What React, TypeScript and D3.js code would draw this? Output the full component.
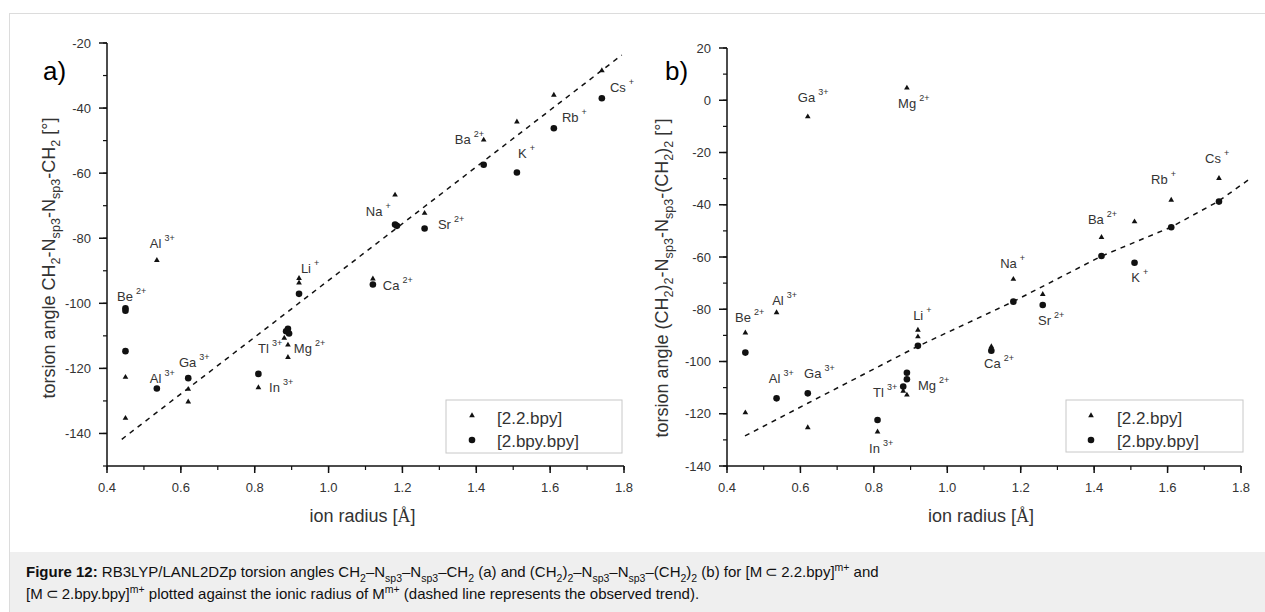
import React from 'react';
import * as d3 from 'd3';

// ---------- data ----------
const xTicks = [0.4, 0.6, 0.8, 1.0, 1.2, 1.4, 1.6, 1.8];
const yTicksA = [-140, -120, -100, -80, -60, -40, -20];
const yTicksB = [-140, -120, -100, -80, -60, -40, -20, 0, 20];
const legendNames = ['[2.2.bpy]', '[2.bpy.bpy]'];

// panel a: [ion radius, torsion angle]
const triA: [number, number][] = [
  [0.45, -122.7], [0.45, -135.3], [0.535, -86.8], [0.62, -126.4], [0.62, -130.3],
  [0.81, -125.9], [0.88, -110.7], [0.89, -112.8], [0.89, -116.6], [0.92, -92.3],
  [0.92, -93.7], [1.12, -92.5], [1.18, -66.7], [1.26, -72.3], [1.42, -49.8],
  [1.51, -44.2], [1.61, -36.0], [1.74, -28.5],
];
const cirA: [number, number][] = [
  [0.45, -101.5], [0.45, -102.3], [0.45, -114.7], [0.535, -126.2], [0.62, -123.0],
  [0.81, -121.7], [0.885, -108.6], [0.89, -107.8], [0.893, -109.3], [0.92, -97.1],
  [1.12, -94.2], [1.18, -75.8], [1.185, -76.2], [1.26, -77.0], [1.42, -57.4],
  [1.51, -59.8], [1.61, -46.2], [1.74, -37.0],
];
const trendA: [number, number][] = [[0.44, -141.8], [1.794, -23.7]];

// panel b
const triB: [number, number][] = [
  [0.45, -89.0], [0.45, -119.6], [0.535, -81.3], [0.62, -6.3], [0.62, -125.3],
  [0.81, -126.9], [0.88, -111.3], [0.89, 4.7], [0.89, -112.8], [0.92, -88.0],
  [0.92, -90.5], [1.12, -94.3], [1.18, -68.5], [1.26, -74.3], [1.42, -52.5],
  [1.51, -46.5], [1.61, -38.2], [1.74, -29.9],
];
const cirB: [number, number][] = [
  [0.45, -96.6], [0.535, -114.1], [0.62, -112.2], [0.81, -122.4], [0.88, -109.6],
  [0.89, -104.3], [0.89, -106.8], [0.92, -94.0], [1.12, -95.9], [1.18, -77.1],
  [1.26, -78.4], [1.42, -59.6], [1.51, -62.2], [1.61, -48.6], [1.74, -38.8],
];
const trendB: [number, number][] = [
  [0.449, -128.5], [0.621, -115.9], [0.918, -94.3], [1.179, -77.1],
  [1.421, -59.6], [1.609, -48.6], [1.737, -38.8], [1.829, -29.6],
];

// ion labels: [ion, charge, radius, angle] (label anchor in data units)
const labelsA: [string, string, number, number][] = [
  ['Al', '3+', 0.516, -83.0], ['Be', '2+', 0.427, -99.2], ['Al', '3+', 0.516, -124.5],
  ['Ga', '3+', 0.595, -119.5], ['Tl', '3+', 0.809, -115.3], ['Mg', '2+', 0.906, -115.3],
  ['In', '3+', 0.839, -127.2], ['Li', '+', 0.925, -90.7], ['Ca', '2+', 1.147, -95.9],
  ['Na', '+', 1.101, -73.2], ['Sr', '2+', 1.296, -77.1], ['Ba', '2+', 1.342, -51.1],
  ['K', '+', 1.513, -55.4], ['Rb', '+', 1.632, -44.4], ['Cs', '+', 1.762, -35.0],
];
const labelsB: [string, string, number, number][] = [
  ['Ga', '3+', 0.593, -0.6], ['Mg', '2+', 0.866, -3.0], ['Be', '2+', 0.422, -84.8],
  ['Al', '3+', 0.523, -78.4], ['Li', '+', 0.907, -84.1], ['Al', '3+', 0.514, -108.3],
  ['Ga', '3+', 0.61, -106.4], ['Tl', '3+', 0.798, -113.5], ['Mg', '2+', 0.92, -110.9],
  ['In', '3+', 0.787, -135.1], ['Ca', '2+', 1.1, -102.4], ['Sr', '2+', 1.247, -86.0],
  ['Na', '+', 1.144, -64.3], ['Ba', '2+', 1.383, -47.4], ['K', '+', 1.501, -69.7],
  ['Rb', '+', 1.555, -32.2], ['Cs', '+', 1.702, -23.9],
];

type Seg = { t: string; s?: 'sub' | 'sup'; b?: boolean };
const yTitleA: Seg[] = [
  { t: 'torsion angle CH' }, { t: '2', s: 'sub' }, { t: '-N' }, { t: 'sp3', s: 'sub' },
  { t: '-N' }, { t: 'sp3', s: 'sub' }, { t: '-CH' }, { t: '2', s: 'sub' }, { t: ' [°]' },
];
const yTitleB: Seg[] = [
  { t: 'torsion angle (CH' }, { t: '2', s: 'sub' }, { t: ')' }, { t: '2', s: 'sub' },
  { t: '-N' }, { t: 'sp3', s: 'sub' }, { t: '-N' }, { t: 'sp3', s: 'sub' },
  { t: '-(CH' }, { t: '2', s: 'sub' }, { t: ')' }, { t: '2', s: 'sub' }, { t: ' [°]' },
];
const caption1: Seg[] = [
  { t: 'Figure 12:', b: true }, { t: ' RB3LYP/LANL2DZp torsion angles CH' }, { t: '2', s: 'sub' },
  { t: '–N' }, { t: 'sp3', s: 'sub' }, { t: '–N' }, { t: 'sp3', s: 'sub' }, { t: '–CH' },
  { t: '2', s: 'sub' }, { t: ' (a) and (CH' }, { t: '2', s: 'sub' }, { t: ')' }, { t: '2', s: 'sub' },
  { t: '–N' }, { t: 'sp3', s: 'sub' }, { t: '–N' }, { t: 'sp3', s: 'sub' }, { t: '–(CH' },
  { t: '2', s: 'sub' }, { t: ')' }, { t: '2', s: 'sub' }, { t: ' (b) for [M\u2009⊂\u20092.2.bpy]' },
  { t: 'm+', s: 'sup' }, { t: ' and' },
];
const caption2: Seg[] = [
  { t: '[M\u2009⊂\u20092.bpy.bpy]' }, { t: 'm+', s: 'sup' },
  { t: ' plotted against the ionic radius of M' }, { t: 'm+', s: 'sup' },
  { t: ' (dashed line represents the observed trend).' },
];

const FONT = "'Liberation Sans', Arial, sans-serif";

function rich(segs: Seg[], size: number) {
  let off = 0;
  return segs.map((g, i) => {
    const target = g.s === 'sub' ? size * 0.3 : g.s === 'sup' ? -size * 0.38 : 0;
    const dy = target - off;
    off = target;
    return (
      <tspan key={i} dy={dy} fontSize={g.s ? size * 0.7 : size} fontWeight={g.b ? 'bold' : undefined}>
        {g.t}
      </tspan>
    );
  });
}

type PanelProps = {
  xr: [number, number];
  yr: [number, number];
  yDomain: [number, number];
  yTicks: number[];
  tri: [number, number][];
  cir: [number, number][];
  trend: [number, number][];
  labels: [string, string, number, number][];
  legend: { x: number; y: number; w: number; h: number; mx: number; tx: number };
  tag: string;
  tagX: number;
  yTitle: Seg[];
  yTitleX: number;
  yTitleY: number;
};

function Panel(p: PanelProps) {
  const x = d3.scaleLinear().domain([0.4, 1.8]).range(p.xr);
  const y = d3.scaleLinear().domain(p.yDomain).range(p.yr);
  const minorX = d3.ticks(0.4, 1.8, 14);
  const minorY = d3.ticks(p.yDomain[0], p.yDomain[1], (p.yDomain[1] - p.yDomain[0]) / 10);
  const line = d3.line<[number, number]>().x(d => x(d[0])).y(d => y(d[1]));
  const triPath = d3.symbol(d3.symbolTriangle, 14)() as string;
  const x0 = p.xr[0];
  const yb = p.yr[0];
  const ink = '#111';
  const txt = '#333';
  const L = p.legend;
  return (
    <g fontFamily={FONT}>
      {/* trend */}
      <path d={line(p.trend) as string} fill="none" stroke={ink} strokeWidth={1.5} strokeDasharray="5,5" />
      {/* markers */}
      {p.cir.map((d, i) => (
        <circle key={'c' + i} cx={x(d[0])} cy={y(d[1])} r={3.3} fill={ink} />
      ))}
      {p.tri.map((d, i) => (
        <path key={'t' + i} d={triPath} transform={`translate(${x(d[0])},${y(d[1])})`} fill={ink} />
      ))}
      {/* labels */}
      {p.labels.map((l, i) => (
        <text key={'l' + i} x={x(l[2])} y={y(l[3])} fontSize={13} fill={txt}>
          {l[0]}
          <tspan dx={3} dy={-7} fontSize={9}>{l[1]}</tspan>
        </text>
      ))}
      {/* axes */}
      <line x1={x0} x2={x0} y1={y(p.yDomain[1])} y2={yb} stroke={ink} strokeWidth={1.5} />
      <line x1={x0} x2={p.xr[1]} y1={yb} y2={yb} stroke={ink} strokeWidth={1.5} />
      {minorX.map((v, i) => (
        <line key={'mx' + i} x1={x(v)} x2={x(v)} y1={yb} y2={yb + 4} stroke={ink} strokeWidth={1.2} />
      ))}
      {xTicks.map((v, i) => (
        <g key={'x' + i}>
          <line x1={x(v)} x2={x(v)} y1={yb} y2={yb + 7} stroke={ink} strokeWidth={1.5} />
          <text x={x(v)} y={yb + 26} textAnchor="middle" fontSize={13} fill={txt}>
            {v.toFixed(1)}
          </text>
        </g>
      ))}
      {minorY.map((v, i) => (
        <line key={'my' + i} x1={x0 - 4} x2={x0} y1={y(v)} y2={y(v)} stroke={ink} strokeWidth={1.2} />
      ))}
      {p.yTicks.map((v, i) => (
        <g key={'y' + i}>
          <line x1={x0 - 8} x2={x0} y1={y(v)} y2={y(v)} stroke={ink} strokeWidth={1.5} />
          <text x={x0 - 16} y={y(v)} dy="0.35em" textAnchor="end" fontSize={13} fill={txt}>
            {String(v)}
          </text>
        </g>
      ))}
      {/* axis titles */}
      <text x={(p.xr[0] + p.xr[1]) / 2 - 3} y={522} textAnchor="middle" fontSize={18} fill={txt}>
        ion radius [<tspan fontFamily="'Liberation Serif', serif">Å</tspan>]
      </text>
      <text transform={`translate(${p.yTitleX},${p.yTitleY}) rotate(-90)`} textAnchor="middle" fill={txt} fontSize={18}>
        {rich(p.yTitle, 18)}
      </text>
      {/* tag */}
      <text x={p.tagX} y={80} fontSize={26} fill="#000">{p.tag}</text>
      {/* legend */}
      <rect x={L.x} y={L.y} width={L.w} height={L.h} fill="#fff" stroke="#c8c8c8" strokeWidth={1} />
      <path d={triPath} transform={`translate(${L.mx},${L.y + 15.5})`} fill={ink} />
      <circle cx={L.mx} cy={L.y + 40} r={3.3} fill={ink} />
      <text x={L.tx} y={L.y + 24} fontSize={17} fill={txt}>{legendNames[0]}</text>
      <text x={L.tx} y={L.y + 47} fontSize={17} fill={txt}>{legendNames[1]}</text>
    </g>
  );
}

export default function App() {
  return (
    <svg width={1265} height={612} style={{ position: 'absolute', left: 0, top: 0, background: '#fff' }}>
      <rect x={9.5} y={13.5} width={1300} height={640} fill="#fff" stroke="#dcdcdc" strokeWidth={1} />
      <rect x={10} y={552} width={1300} height={70} fill="#efefef" />
      <Panel
        xr={[107, 624]}
        yr={[466, 43]}
        yDomain={[-150, -20]}
        yTicks={yTicksA}
        tri={triA}
        cir={cirA}
        trend={trendA}
        labels={labelsA}
        legend={{ x: 446, y: 400, w: 176, h: 53, mx: 472, tx: 497 }}
        tag="a)"
        tagX={43}
        yTitle={yTitleA}
        yTitleX={55}
        yTitleY={258}
      />
      <Panel
        xr={[727, 1241]}
        yr={[466, 48]}
        yDomain={[-140, 20]}
        yTicks={yTicksB}
        tri={triB}
        cir={cirB}
        trend={trendB}
        labels={labelsB}
        legend={{ x: 1066, y: 400, w: 177, h: 52, mx: 1091, tx: 1117 }}
        tag="b)"
        tagX={665}
        yTitle={yTitleB}
        yTitleX={668}
        yTitleY={278}
      />
      <g fontFamily={FONT} fill="#111">
        <text x={26} y={577}>{rich(caption1, 15)}</text>
        <text x={26} y={599}>{rich(caption2, 15)}</text>
      </g>
    </svg>
  );
}
